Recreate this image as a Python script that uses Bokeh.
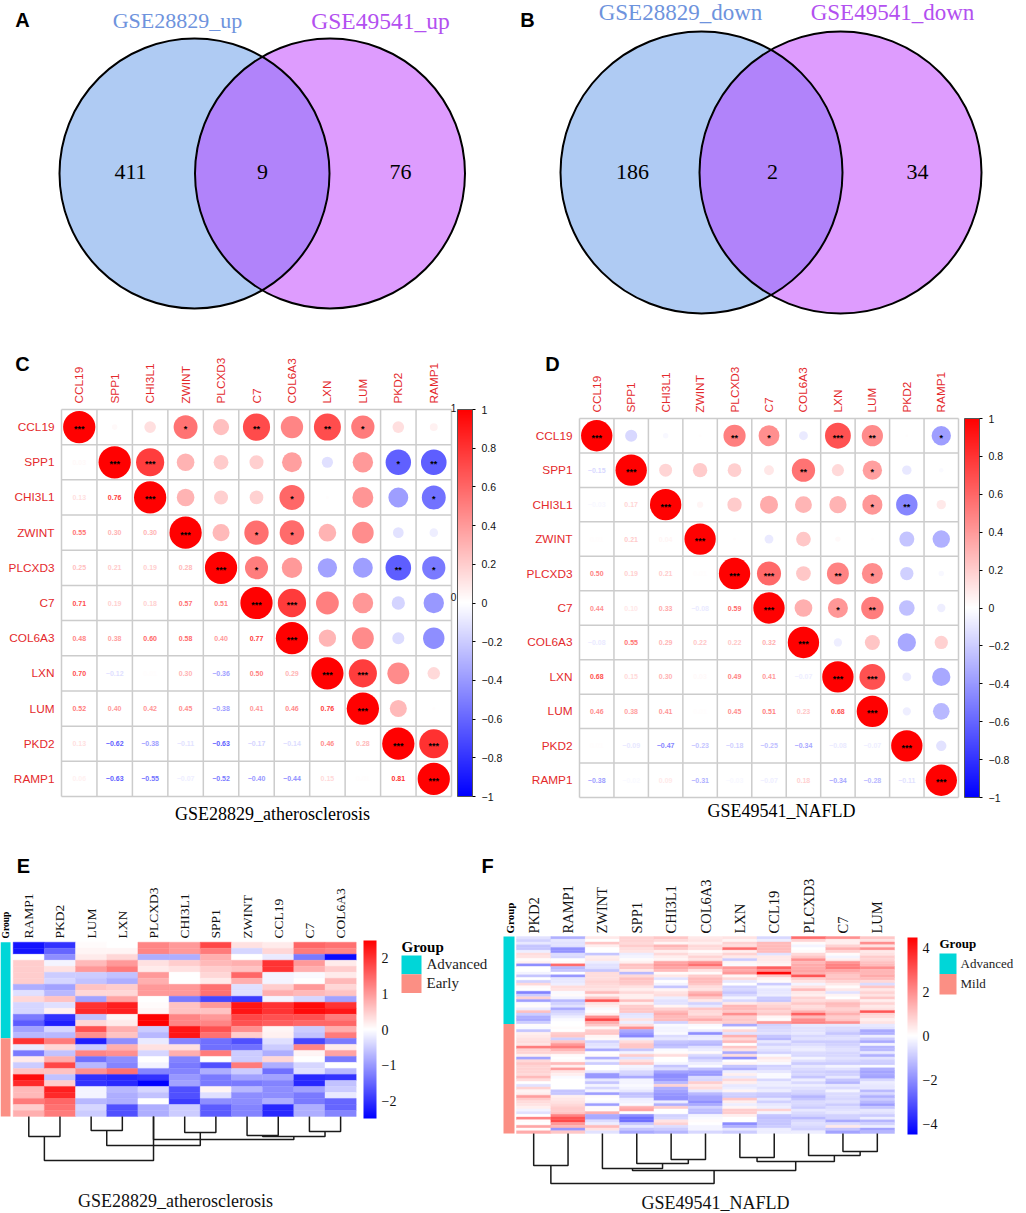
import math
import numpy as np
from bokeh.embed import file_html
from bokeh.resources import INLINE
from bokeh.plotting import figure
from bokeh.layouts import column, row
from bokeh.models import (AllLabels, ColumnDataSource, ColorBar, FixedTicker,
                          LinearColorMapper, Range1d)
from bokeh.core.properties import value
from bokeh.transform import transform

SERIF = "Liberation Serif"
SANS = "Liberation Sans"

# ---------- Venn data ----------
VENN_A_NAMES = ["GSE28829_up", "GSE49541_up"]
VENN_A_COUNTS = [411, 9, 76]
VENN_B_NAMES = ["GSE28829_down", "GSE49541_down"]
VENN_B_COUNTS = [186, 2, 34]

# ---------- Correlation data ----------
CORR_GENES = ["CCL19", "SPP1", "CHI3L1", "ZWINT", "PLCXD3", "C7", "COL6A3", "LXN", "LUM", "PKD2", "RAMP1"]
R_ATHERO = [
    [0.03],
    [0.13, 0.76],
    [0.55, 0.30, 0.30],
    [0.25, 0.21, 0.19, 0.28],
    [0.71, 0.19, 0.18, 0.57, 0.51],
    [0.48, 0.38, 0.60, 0.58, 0.40, 0.77],
    [0.70, -0.12, 0.01, 0.30, -0.36, 0.50, 0.29],
    [0.52, 0.40, 0.42, 0.45, -0.38, 0.41, 0.46, 0.76],
    [0.13, -0.62, -0.38, -0.11, -0.63, -0.17, -0.14, 0.46, 0.28],
    [0.06, -0.63, -0.55, -0.07, -0.52, -0.40, -0.44, 0.15, 0.01, 0.81],
]
STARS_ATHERO = {(0, 3): "*", (0, 5): "**", (0, 7): "**", (0, 8): "*", (1, 2): "***", (1, 9): "*", (1, 10): "**",
                (2, 6): "*", (2, 10): "*", (3, 5): "*", (3, 6): "*", (4, 5): "*", (4, 9): "**", (4, 10): "*",
                (5, 6): "***", (7, 8): "***", (9, 10): "***"}
R_NAFLD = [
    [-0.15],
    [-0.03, 0.17],
    [0.01, 0.21, 0.04],
    [0.50, 0.19, 0.21, 0.01],
    [0.44, 0.10, 0.33, -0.08, 0.59],
    [-0.08, 0.55, 0.29, 0.22, 0.22, 0.32],
    [0.68, 0.15, 0.30, 0.03, 0.49, 0.41, -0.07],
    [0.46, 0.38, 0.41, 0.01, 0.45, 0.51, 0.23, 0.68],
    [0.01, -0.09, -0.47, -0.23, -0.18, -0.25, -0.34, -0.08, -0.07],
    [-0.38, -0.02, 0.09, -0.31, -0.03, -0.07, 0.18, -0.34, -0.28, -0.11],
]
STARS_NAFLD = {(0, 4): "**", (0, 5): "*", (0, 7): "***", (0, 8): "**", (0, 10): "*", (1, 6): "**", (1, 8): "*",
               (2, 8): "*", (2, 9): "**", (4, 5): "***", (4, 7): "**", (4, 8): "*", (5, 7): "*", (5, 8): "**",
               (7, 8): "***"}
CORR_TICKS = [1, 0.8, 0.6, 0.4, 0.2, 0, -0.2, -0.4, -0.6, -0.8, -1]

# ---------- Heatmap E ----------
E_GENES = ["RAMP1", "PKD2", "LUM", "LXN", "PLCXD3", "CHI3L1", "SPP1", "ZWINT", "CCL19", "C7", "COL6A3"]
E_GROUPS = [("Advanced", 16), ("Early", 13)]
E_RAMP1 = [-2.3,-2.3,0.0,0.5,0.5,0.5,0.5,-0.8,-0.3,0.4,-0.4,-0.4,-1.3,-1.6,-0.9,-0.7,2.0,-0.2,-1.3,0.2,-0.5,0.6,2.4,2.1,0.7,0.7,1.3,0.5,0.8]
E_PKD2 = [-2.0,-1.5,-1.1,-0.1,0.3,-0.5,-0.4,-0.9,-0.7,0.6,-0.3,0.15,-2.0,-2.2,-0.4,-0.7,1.3,0.4,-0.6,0.8,1.8,0.6,-0.6,0.5,2.2,2.1,1.5,1.4,1.3]
E_LUM = [0.05,0.1,0.2,0.7,1.0,-0.5,-0.6,0.6,0.4,-0.9,2.0,2.1,-0.6,0.4,1.7,1.1,-2.2,-0.5,1.2,-1.4,-0.7,1.1,-2.0,-2.0,-0.1,-0.1,-0.7,-0.4,-0.5]
E_LXN = [0.0,0.1,0.4,1.0,1.3,-0.6,-0.8,0.5,0.4,0.9,2.2,2.2,0.1,0.2,0.8,0.6,-1.1,0.8,1.1,-1.1,-1.2,1.4,-2.1,-2.1,-0.7,-0.8,-0.8,-1.7,-1.7]
E_PLCXD3 = [1.2,1.2,-0.8,0.3,0.2,1.0,0.8,1.0,1.0,0.0,0.05,0.1,2.5,2.5,-0.5,-0.7,-0.2,0.3,-0.4,0.0,-0.1,-1.2,-2.0,-2.5,-0.4,-0.6,0.0,-0.8,-0.8]
E_CHI3L1 = [1.0,1.0,-0.8,0.5,0.3,0.0,0.0,1.0,1.0,-1.3,0.6,0.6,1.2,1.2,2.3,2.3,-1.2,0.3,0.8,-1.2,-1.3,-1.2,-1.0,-0.9,-1.7,-1.7,-1.9,-0.5,-0.5]
E_SPP1 = [1.8,1.3,0.8,0.7,0.5,0.4,0.2,1.4,1.4,-1.8,1.0,0.6,1.0,1.2,1.7,1.4,-1.4,-1.4,1.3,0.0,-1.7,-0.8,-1.3,-1.3,0.1,-0.3,-1.1,-1.6,-1.6]
E_ZWINT = [0.3,-0.4,0.0,0.8,0.6,1.5,0.8,-0.3,-0.3,-1.9,2.3,2.3,1.8,1.7,1.1,0.5,-1.7,-1.4,-0.5,-0.5,1.3,-0.5,-0.9,-1.3,-0.7,-1.1,-1.1,-1.2,-1.2]
E_CCL19 = [0.2,0.4,-0.2,2.0,2.0,-0.1,-0.1,0.5,0.8,-0.1,2.0,2.0,1.7,1.6,0.1,0.15,-0.3,-0.5,-0.8,0.4,-0.8,-1.4,-0.9,-1.2,-1.1,-1.1,-0.8,-2.1,-2.1]
E_C7 = [1.5,1.3,-1.3,1.0,0.8,-0.05,0.0,1.0,0.7,-0.4,2.4,2.4,1.7,1.5,-0.5,-0.6,-1.8,1.2,0.1,0.0,-0.4,-0.3,-2.1,-2.1,-0.9,-1.3,-1.3,-0.8,-0.8]
E_COL6A3 = [1.4,1.2,-2.4,0.2,0.5,0.2,0.7,0.4,0.6,-0.9,2.0,2.3,1.3,1.5,0.8,1.3,-1.3,0.2,0.9,-1.3,0.0,-0.7,-2.0,-0.6,-0.5,-0.2,-1.5,-1.5,-1.2]
E_MATRIX = [E_RAMP1, E_PKD2, E_LUM, E_LXN, E_PLCXD3, E_CHI3L1, E_SPP1, E_ZWINT, E_CCL19, E_C7, E_COL6A3]
E_TICKS = [2, 1, 0, -1, -2]
# merges: left col, left height, right col, right height, merge height
E_TREE = [(0,0,1,0,20),(2,0,3,0,14),(5,0,6,0,16),(7,0,8,0,19),(9,0,10,0,15),(7.5,19,9.5,15,20),
          (4,0,8.5,20,23),(2.5,14,5.5,16,29),(0.5,20,4,0,44)]

# ---------- Heatmap F ----------
F_GENES = ["PKD2", "RAMP1", "ZWINT", "SPP1", "CHI3L1", "COL6A3", "LXN", "CCL19", "PLCXD3", "C7", "LUM"]
F_GROUPS = [("Advanced", 32), ("Mild", 40)]
F_PKD2 = [-0.5,-0.8,-0.4,-1.0,-1.0,-0.3,0.6,0.5,0.1,0.3,
          -2.0,0.0,0.0,-0.2,-1.0,0.0,-0.8,0.7,0.1,0.0,
          -2.2,-0.9,0.8,-1.7,-0.1,0.1,-0.3,1.1,-0.9,-1.4,
          -1.5,-0.9,0.1,-0.1,-1.0,0.3,0.4,0.5,0.6,0.5,
          2.3,0.8,0.8,0.3,-1.6,0.7,1.0,0.8,0.8,0.8,
          0.7,1.2,0.6,0.0,-0.5,0.8,0.2,0.3,1.7,0.9,
          0.6,0.5,0.3,-0.2,-0.5,0.0,2.2,0.1,0.0,1.6,
          0.1,1.5]
F_RAMP1 = [-1.4,-0.4,-0.5,-0.5,-1.9,-1.9,-0.6,-0.7,0.0,0.1,
           2.6,-1.2,-1.0,0.0,-1.8,-0.4,-0.4,-0.3,0.6,0.5,
           -0.1,0.1,-0.2,-1.2,-0.8,-0.5,-1.5,-0.8,-0.6,-0.3,
           -0.1,0.0,0.0,0.1,0.0,0.9,1.0,-0.8,1.0,1.8,
           2.3,1.3,0.8,0.1,0.0,0.1,1.2,0.3,1.7,0.5,
           0.3,-0.1,0.0,0.0,0.0,0.0,-1.0,-1.0,0.3,0.4,
           0.5,0.7,0.9,0.9,1.0,2.2,3.0,3.2,1.8,1.3,
           -1.8,1.0]
F_ZWINT = [0.4,0.0,1.0,0.3,0.0,0.0,-1.0,0.3,0.4,-0.3,
           -0.5,-0.5,-1.0,0.6,0.6,0.6,0.8,0.7,0.6,0.5,
           1.2,0.3,1.0,3.0,0.5,0.3,-0.1,0.0,0.3,2.0,
           3.2,1.5,1.0,0.2,0.9,1.0,0.2,0.1,-0.8,-0.5,
           -0.4,-1.5,0.0,0.1,-1.4,-0.2,-0.9,0.0,0.0,-0.4,
           -1.8,-1.8,-0.4,-1.0,-0.2,-0.7,-0.2,-1.7,0.1,0.0,
           -0.1,-1.7,0.1,0.1,1.4,-1.5,-1.5,-0.6,-0.3,1.2,
           0.5,-0.5]
F_SPP1 = [0.8,0.8,0.7,0.9,0.6,0.5,-0.3,-0.2,0.1,0.3,
          1.1,1.0,0.4,-1.2,0.7,1.1,1.0,0.9,0.5,0.3,
          0.7,0.3,0.3,1.1,0.3,0.9,1.0,1.0,-0.5,-0.4,
          0.5,-0.3,0.6,2.0,-1.5,-1.8,-2.1,-0.3,0.6,1.0,
          1.0,-1.0,-0.2,0.9,-0.5,0.5,1.0,-0.2,-0.3,-0.7,
          -0.8,-1.5,-0.2,-0.2,-0.1,-0.2,-0.4,-1.1,-1.0,-0.3,
          -0.2,-0.1,1.4,1.6,0.0,-2.0,-2.5,-2.5,-1.0,-0.4,
          -1.0,-1.5]
F_CHI3L1 = [1.0,0.7,0.2,1.3,1.0,0.3,0.7,0.3,0.2,1.6,
            1.8,1.6,1.2,0.1,0.4,-0.5,0.0,-0.2,-1.0,0.2,
            0.5,0.6,-0.3,-0.5,-0.5,0.2,0.8,1.2,1.5,1.2,
            1.2,-0.8,-0.1,-0.2,-0.2,-0.1,-0.6,-0.4,-1.0,-1.2,
            -1.0,-0.1,0.1,0.6,0.0,0.0,-0.2,-1.0,-0.6,-1.6,
            -2.0,-2.0,-1.8,-1.2,0.8,-1.4,-1.6,-1.8,-1.9,-1.9,
            -0.3,-1.4,0.9,0.0,0.0,-0.8,-0.7,0.5,0.8,-0.6,
            -0.9,-1.3]
F_COL6A3 = [0.4,0.5,0.3,0.7,0.6,0.1,0.4,0.8,0.5,2.0,
            2.5,1.4,0.5,0.1,0.9,1.2,1.2,1.0,0.6,0.5,
            1.3,1.6,0.9,0.4,-0.8,-0.4,1.0,0.7,0.6,1.0,
            1.5,0.8,-0.1,0.0,-0.3,-2.0,-0.4,-0.3,-1.1,-1.3,
            -0.5,-0.3,0.1,-0.7,-1.0,-0.6,-0.3,-0.1,-1.1,-1.7,
            -1.8,-0.6,-0.7,0.9,0.4,0.6,-0.4,-1.2,-1.6,-1.6,
            -1.9,-1.5,-0.8,-1.1,-1.2,-0.2,-0.1,0.1,0.0,-0.2,
            -0.2,-0.7]
F_LXN = [0.5,0.2,0.8,0.6,2.6,0.3,0.8,0.4,-0.9,0.2,
         -0.1,1.8,1.5,1.8,0.2,0.7,-0.4,0.0,-0.8,-0.7,
         -1.0,-0.7,-0.2,-0.7,0.4,1.3,1.2,1.0,2.0,0.9,
         1.0,0.9,-1.5,0.1,0.7,-0.5,1.4,0.7,1.2,0.0,
         1.0,0.5,-1.5,0.6,-1.9,0.0,0.2,-1.0,-1.4,-0.3,
         0.3,-0.4,0.7,0.3,-0.4,-0.3,0.2,-0.8,-0.9,1.0,
         0.3,-0.3,0.2,0.9,0.9,0.3,0.0,0.0,-2.0,-1.4,
         -0.4,-0.9]
F_CCL19 = [-0.7,-0.3,1.2,1.2,1.2,1.2,-0.5,0.4,0.4,0.3,
           0.2,2.8,2.0,4.4,1.0,0.3,0.1,-0.9,-0.2,-0.4,
           -0.4,-0.3,-0.9,-1.0,0.6,0.8,1.0,0.8,1.0,0.2,
           0.1,1.8,-0.8,-0.7,-0.6,-0.5,-1.0,-1.2,-0.4,-0.8,
           -0.4,-0.5,-0.8,-0.1,0.4,0.2,-0.1,-0.8,-0.7,-0.4,
           -0.1,-0.1,-0.7,-0.3,-0.3,-0.5,-0.3,-0.9,-1.0,-0.4,
           -0.8,-0.4,-0.3,0.8,-0.2,-1.0,-1.1,-1.0,-1.0,-0.9,
           -0.3,-0.3]
F_PLCXD3 = [2.6,0.8,0.1,-0.2,0.0,0.1,0.7,1.0,2.0,1.3,
            1.5,1.5,1.6,1.4,3.0,0.9,0.5,-0.2,0.5,1.2,
            0.4,0.3,0.8,0.6,1.0,0.6,0.7,1.4,2.8,1.2,
            2.0,2.2,-0.4,-0.5,-0.5,-0.4,-0.7,-0.5,-0.9,-0.6,
            -0.4,-0.3,-0.6,-0.7,-0.2,-0.5,-0.9,-0.4,-0.6,-0.8,
            -0.7,-1.0,-0.3,-0.7,-0.3,-0.5,-0.7,-0.8,-1.3,-1.0,
            -0.6,-0.7,-0.9,-0.4,-0.6,-0.8,-1.2,-0.7,-0.5,-0.7,
            -0.8,-0.3]
F_C7 = [2.0,0.3,0.3,0.8,1.4,0.8,0.1,-0.2,0.3,1.9,
        2.2,2.3,1.6,1.2,1.0,1.1,0.8,0.4,0.1,0.4,
        -0.5,0.2,0.0,0.7,1.2,1.1,0.8,1.0,1.4,0.9,
        1.0,2.0,-0.4,-0.6,-0.7,-1.0,-0.6,-0.5,-0.9,-0.8,
        -0.6,-0.5,-0.7,-0.7,-0.5,-0.7,-0.9,-0.2,-0.5,-0.9,
        -0.8,-0.4,-1.0,-1.3,-0.4,-0.6,-0.2,-0.6,-0.6,-0.7,
        -0.5,-0.9,-0.6,-0.5,-0.4,-0.8,-0.8,-1.5,-0.6,0.4,
        -1.0,-1.6]
F_LUM = [1.0,0.5,2.0,0.5,2.0,0.4,0.5,0.9,0.8,1.1,
         1.2,2.0,1.3,1.3,1.5,1.2,0.7,-0.6,1.0,0.4,
         0.8,0.5,1.0,0.3,0.8,0.4,0.5,3.0,0.8,0.6,
         0.3,0.5,-0.4,-0.5,-1.5,-1.4,-0.3,-0.9,-1.5,-0.2,
         -1.3,-1.2,-0.4,-1.4,-0.5,-0.8,-0.9,-0.1,-1.4,-1.6,
         -1.5,-1.6,-0.7,-0.3,-0.4,-0.4,-1.2,-0.7,-1.4,-0.9,
         -1.2,-1.7,-1.0,-0.4,-0.5,-0.9,-0.3,-1.3,-0.8,-0.3,
         -1.6,-1.3]
F_MATRIX = [F_PKD2, F_RAMP1, F_ZWINT, F_SPP1, F_CHI3L1, F_COL6A3, F_LXN, F_CCL19, F_PLCXD3, F_C7, F_LUM]
F_TICKS = [4, 2, 0, -2, -4]
F_TREE = [(0,0,1,0,32),(4,0,5,0,26),(3,0,4.5,26,30),(6,0,7,0,24),(9,0,10,0,18),(8,0,9.5,18,22),
          (6.5,24,8.75,22,28),(2,0,3.75,30,35),(2.875,35,7.625,28,37),(0.5,32,5.25,37,50)]

# ---------- Palette and colours ----------
PALETTE = (["#%02x%02x%02x" % (i, i, 255) for i in range(0, 255, 2)] + ["#ffffff"] +
           ["#%02x%02x%02x" % (255, i, i) for i in range(253, -1, -2)])
ADV_COLOR = "#00D6D8"
LOW_COLOR = "#FB8F84"
LABEL_RED = "#E4292C"


def canvas(x0, x1, y0, y1):
    p = figure(width=x1 - x0, height=y1 - y0, x_range=Range1d(x0, x1), y_range=Range1d(y1, y0),
               x_axis_type=None, y_axis_type=None, toolbar_location=None, output_backend="svg",
               min_border=0, outline_line_color=None)
    return p


def put(p, x, y, text, size, color="#000000", font=SERIF, style="normal", align="center", baseline="middle", angle=0):
    p.text([x], [y], text=[text], text_font=value(font), text_font_size=f"{size}px", text_color=color,
           text_font_style=style, text_align=align, text_baseline=baseline, angle=angle)


def venn(x0, x1, y0, y1, letter, letter_xy, c1, c2, r, names, name_xy, name_sizes, counts, count_xy):
    p = canvas(x0, x1, y0, y1)
    p.circle([c1[0]], [c1[1]], radius=r, fill_color="#AFCBF3", line_color=None)
    p.circle([c2[0]], [c2[1]], radius=r, fill_color="#DE9CFE", line_color=None)
    d = abs(c2[0] - c1[0])
    half = math.acos(d / 2 / r)
    t = np.linspace(-half, half, 80)
    lens_x = np.concatenate([c1[0] + r * np.cos(t), c2[0] - r * np.cos(t[::-1])])
    lens_y = np.concatenate([c1[1] + r * np.sin(t), c2[1] + r * np.sin(t[::-1])])
    p.patch(lens_x, lens_y, fill_color="#B183FA", line_color=None)
    for c in (c1, c2):
        p.circle([c[0]], [c[1]], radius=r, fill_color=None, line_color="#000000", line_width=2)
    put(p, name_xy[0][0], name_xy[0][1], names[0], name_sizes[0], "#6E93DD")
    put(p, name_xy[1][0], name_xy[1][1], names[1], name_sizes[1], "#B350F0")
    for (cx, cy), n in zip(count_xy, counts):
        put(p, cx, cy, str(n), 22)
    put(p, letter_xy[0], letter_xy[1], letter, 20, font=SANS, style="bold")
    return p


def corr(x0, x1, y0, y1, left, right, top, bottom, genes, lower, stars, letter, letter_px, title, title_px, ticks, bar_x):
    n = len(genes)
    p = canvas(x0, x1, y0, y1)
    cw = (right - left) / n
    ch = (bottom - top) / n
    X = lambda i: left + i * cw
    Y = lambda i: top + i * ch
    # grid
    p.segment([X(i) for i in range(n + 1)], [top] * (n + 1), [X(i) for i in range(n + 1)], [bottom] * (n + 1),
              line_color="#cccccc", line_width=1.5)
    p.segment([left] * (n + 1), [Y(i) for i in range(n + 1)], [right] * (n + 1), [Y(i) for i in range(n + 1)],
              line_color="#cccccc", line_width=1.5)
    # gene labels
    p.text([X(i + 0.5) for i in range(n)], [top - 6] * n, text=genes, text_font=value(SANS), text_font_size="11.8px",
           text_color=LABEL_RED, text_align="left", text_baseline="middle", angle=math.pi / 2)
    p.text([left - 7] * n, [Y(i + 0.5) for i in range(n)], text=genes, text_font=value(SANS), text_font_size="11.8px",
           text_color=LABEL_RED, text_align="right", text_baseline="middle")
    mapper = LinearColorMapper(palette=PALETTE, low=-1, high=1)
    cx, cy, cr, rad = [], [], [], []
    sx, sy, st = [], [], []
    tx, ty, tr, tt = [], [], [], []
    rmax = 0.455 * cw
    for i in range(n):
        cx.append(X(i + 0.5)); cy.append(Y(i + 0.5)); cr.append(1.0); rad.append(rmax)
        sx.append(X(i + 0.5)); sy.append(Y(i + 0.5)); st.append("***")
    for i, rowvals in enumerate(lower):
        for j, v in enumerate(rowvals):
            a, b = j, i + 1
            cx.append(X(b + 0.5)); cy.append(Y(a + 0.5)); cr.append(v); rad.append(rmax * math.sqrt(abs(v)))
            tx.append(X(a + 0.5)); ty.append(Y(b + 0.5)); tr.append(v)
            tt.append(f"{v:.2f}".replace("-", "\u2212"))
            if (a, b) in stars:
                sx.append(X(b + 0.5)); sy.append(Y(a + 0.5)); st.append(stars[(a, b)])
    p.circle("x", "y", radius="rad", source=ColumnDataSource(dict(x=cx, y=cy, r=cr, rad=rad)),
             fill_color=transform("r", mapper), line_color=None)
    p.text("x", "y", text="t", source=ColumnDataSource(dict(x=tx, y=ty, r=tr, t=tt)),
           text_color=transform("r", mapper), text_font=value(SANS), text_font_size="7px",
           text_font_style="bold", text_align="center", text_baseline="middle")
    p.text("x", "y", text="t", source=ColumnDataSource(dict(x=sx, y=sy, t=st)), text_color="#000000",
           text_font=value(SANS), text_font_size="9px", text_font_style="bold", text_align="center",
           text_baseline="middle", y_offset=2)
    put(p, letter_px[0], letter_px[1], letter, 20, font=SANS, style="bold")
    put(p, title_px[0], title_px[1], title, 18)
    bar = ColorBar(color_mapper=mapper, ticker=FixedTicker(ticks=ticks), location=(bar_x - x0, y1 - bottom),
                   width=15, height=bottom - top, padding=0, margin=0, label_standoff=6,
                   major_label_policy=AllLabels(),
                   major_label_text_font=SANS, major_label_text_font_size="10.5px", major_label_text_color="#111111",
                   major_tick_in=0, major_tick_out=3, major_tick_line_color="#000000", minor_tick_line_color=None,
                   bar_line_color="#555555", bar_line_width=1, background_fill_alpha=0, border_line_alpha=0,
                   major_label_overrides={t: f"{t:g}".replace("-", "\u2212") for t in ticks})
    p.add_layout(bar)
    return p


def heat(x0, x1, y0, y1, letter, letter_xy, genes, matrix, groups, box, group_box, label_y, label_size,
         group_label, lim, ticks, bar_box, tree, title, title_xy, title_size, legend, tick_size):
    p = canvas(x0, x1, y0, y1)
    mapper = LinearColorMapper(palette=PALETTE, low=-lim, high=lim)
    left, right, top, bottom = box
    ncol, nrow = len(matrix), len(matrix[0])
    cw, rh = (right - left) / ncol, (bottom - top) / nrow
    xs, ys, vs = [], [], []
    for c, col in enumerate(matrix):
        for r, v in enumerate(col):
            xs.append(left + (c + 0.5) * cw); ys.append(top + (r + 0.5) * rh); vs.append(v)
    p.rect("x", "y", width=cw, height=rh, source=ColumnDataSource(dict(x=xs, y=ys, v=vs)),
           fill_color=transform("v", mapper), line_color=transform("v", mapper), line_width=0.4)
    gl, gr = group_box
    start = 0
    gx, gy, gh, gc = [], [], [], []
    for (name, count), colr in zip(groups, (ADV_COLOR, LOW_COLOR)):
        gx.append((gl + gr) / 2); gy.append(top + (start + count / 2) * rh); gh.append(count * rh); gc.append(colr)
        start += count
    p.rect(gx, gy, width=gr - gl, height=gh, fill_color=gc, line_color=None)
    for c, g in enumerate(genes):
        put(p, left + (c + 0.5) * cw, label_y, g, label_size, "#111111", align="left", angle=math.pi / 2)
    put(p, group_label[0], label_y, "Group", group_label[1], style="bold", align="left", angle=math.pi / 2)
    dx, dy = [], []
    for xa, ha, xb, hb, h in tree:
        xl, xr = left + (xa + 0.5) * cw, left + (xb + 0.5) * cw
        dx.append([xl, xl, xr, xr]); dy.append([bottom + ha, bottom + h, bottom + h, bottom + hb])
    p.multi_line(dx, dy, line_color="#1a1a1a", line_width=1.5)
    bl, br, bt, bb = bar_box
    p.add_layout(ColorBar(color_mapper=mapper, ticker=FixedTicker(ticks=ticks),
                          location=(bl - x0, y1 - bb), width=br - bl, height=bb - bt, padding=0, margin=0,
                          label_standoff=5, major_label_policy=AllLabels(), major_label_text_font=SERIF,
                          major_label_text_font_size=f"{tick_size}px", major_label_text_color="#111111",
                          major_tick_line_color=None, minor_tick_line_color=None, bar_line_color=None,
                          background_fill_alpha=0, border_line_alpha=0,
                          major_label_overrides={t: f"{t:g}".replace("-", "\u2212") for t in ticks}))
    lx, lw, ly, lh, ls, head_y, text_x = legend
    put(p, lx, head_y, "Group", ls, style="bold", align="left")
    for i, ((name, _), colr) in enumerate(zip(groups, (ADV_COLOR, LOW_COLOR))):
        p.rect([lx + lw / 2], [ly + (i + 0.5) * lh], width=lw, height=lh, fill_color=colr, line_color=None)
        put(p, text_x, ly + (i + 0.5) * lh - 0.5, name, ls, "#222222", align="left")
    put(p, title_xy[0], title_xy[1], title, title_size, "#111111")
    if letter:
        put(p, letter_xy[0], letter_xy[1], letter, 20, font=SANS, style="bold")
    return p


pA = venn(0, 513, 0, 340, "A", (22, 19), (194, 173), (329.5, 173), 135, VENN_A_NAMES, [(177, 20), (380, 20)],
          (22, 23.5), VENN_A_COUNTS, [(130, 171), (262, 171), (400, 171)])
pB = venn(513, 1026, 0, 340, "B", (527, 19), (701, 172), (840, 172), 141, VENN_B_NAMES, [(680, 12), (892, 12)],
          (23, 23), VENN_B_COUNTS, [(632, 171), (772, 171), (917, 171)])

pC = corr(0, 513, 340, 835, 61, 451, 409, 796, CORR_GENES, R_ATHERO, STARS_ATHERO, "C", (22, 363),
          "GSE28829_atherosclerosis", (272, 813), CORR_TICKS, 457)
put(pC, 453, 407, "1", 10, "#111111", font=SANS)
put(pC, 453, 596, "0", 10, "#111111", font=SANS)
pD = corr(513, 1026, 340, 835, 579, 958, 418, 797, CORR_GENES, R_NAFLD, STARS_NAFLD, "D", (552, 363),
          "GSE49541_NAFLD", (781, 810), CORR_TICKS, 964)

pE = heat(0, 495, 835, 1213, "E", (23, 865), E_GENES, E_MATRIX, E_GROUPS, (12.7, 355.7, 941.7, 1116), (0, 10),
          938, 13.5, (5, 9.5), 2.5, E_TICKS, (363, 376, 940, 1118), E_TREE, "GSE28829_atherosclerosis",
          (175, 1200), 18, (401, 20, 955, 18.8, 15, 946, 426), 14)
put(pE, 487, 865, "F", 20, font=SANS, style="bold")
pF = heat(495, 1026, 835, 1213, None, None, F_GENES, F_MATRIX, F_GROUPS, (516, 894, 936, 1133), (503, 514),
          933, 14.5, (509, 11), 4.5, F_TICKS, (907, 917, 937, 1134), F_TREE, "GSE49541_NAFLD",
          (715, 1202), 18, (939, 17, 953, 20.5, 13, 943, 960), 14)

page = column(row(pA, pB), row(pC, pD), row(pE, pF))
open("out.html", "w").write(file_html(page, INLINE))
